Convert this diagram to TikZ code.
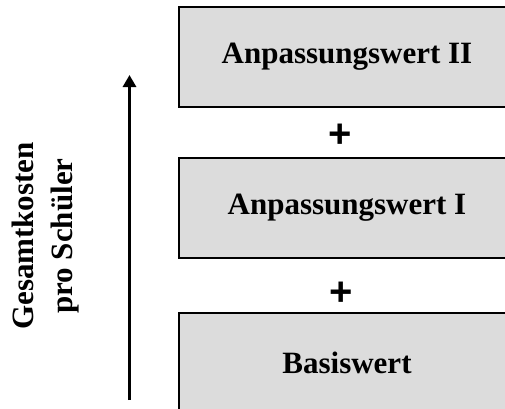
\documentclass[tikz,border=0pt]{standalone}
\usepackage{fontspec}
\setmainfont{Liberation Serif}
\newfontfamily\plusfont{Liberation Sans}
\usetikzlibrary{arrows.meta}
\definecolor{boxgray}{RGB}{220,220,220}
\tikzset{
  box/.style={draw=black, line width=2pt, fill=boxgray, minimum width=337pt, minimum height=100pt,
    inner sep=0pt, outer sep=0pt, font=\fontsize{31}{36}\selectfont\bfseries},
  plussign/.style={inner sep=0pt, font=\plusfont\fontsize{40}{40}\selectfont\bfseries},
  axislabel/.style={rotate=90, align=center, inner sep=0pt, font=\fontsize{31}{39}\selectfont\bfseries},
  axisarrow/.style={line width=3pt, -{Triangle[length=12pt,width=13pt]}}
}
\begin{document}
\begin{tikzpicture}[x=1pt,y=-1pt]
\useasboundingbox (0,0) rectangle (505,408);
\clip (0,0) rectangle (505,408);
\fill[white] (0,0) rectangle (505,408);
\node[box] (top) at (347,57) {Anpassungswert II};
\node[box] (mid) at (347,208) {Anpassungswert I};
\node[box] (base) at (347,362.7) {Basiswert};
\node[plussign] (p1) at (340,136) {+};
\node[plussign] (p2) at (341,293.5) {+};
\coordinate (a0) at (129.5,400);
\coordinate (a1) at (129.5,75);
\draw[axisarrow] (a0) -- (a1);
\node[axislabel] (lab) at (46,236) {Gesamtkosten\\pro Schüler};
\end{tikzpicture}
\end{document}
